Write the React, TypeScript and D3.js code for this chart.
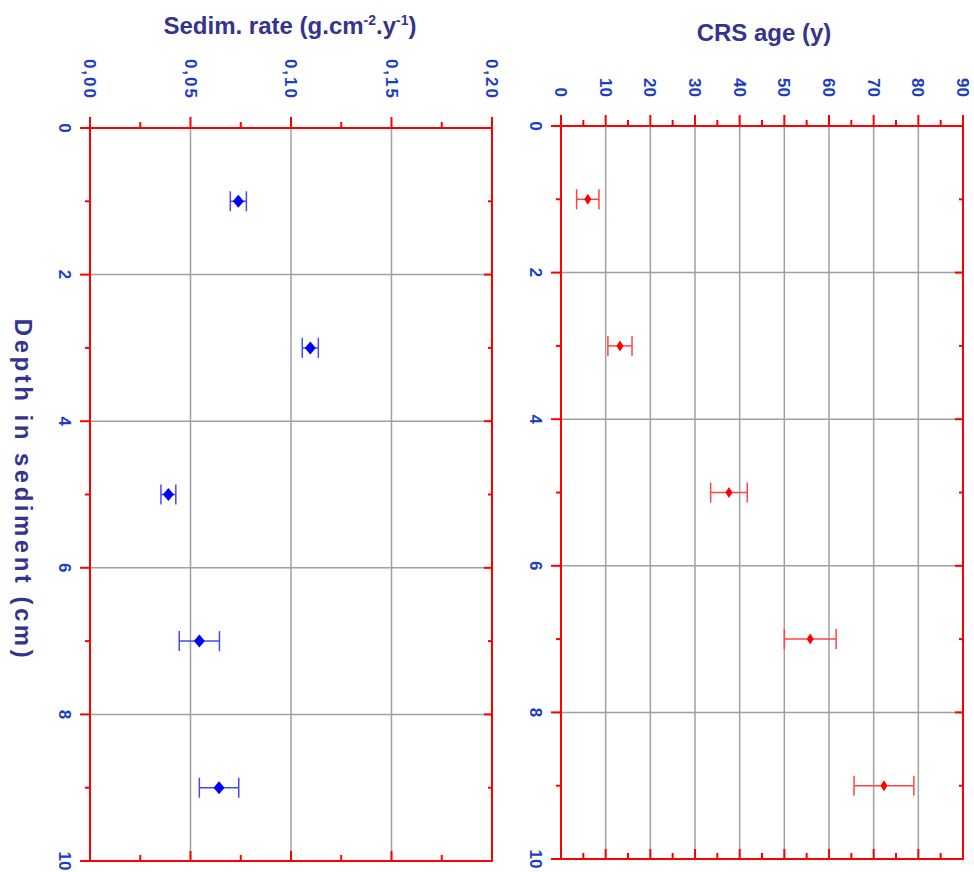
import React from 'react';
import * as d3 from 'd3';

// depth (cm) of each sample
const depths = [1, 3, 5, 7, 9];
// sedimentation rate (g.cm-2.y-1) and its uncertainty
const sedRate = [0.0738, 0.1096, 0.039, 0.0544, 0.0642];
const sedErr = [0.004, 0.004, 0.0037, 0.01, 0.0098];
// CRS age (y) and its uncertainty
const crsAge = [6.0, 13.2, 37.6, 55.8, 72.3];
const crsErr = [2.5, 2.7, 4.1, 5.8, 6.7];

const sedTicks = [0, 0.05, 0.1, 0.15, 0.2];
const sedTickLabels = ['0,00', '0,05', '0,10', '0,15', '0,20'];
const ageTicks = [0, 10, 20, 30, 40, 50, 60, 70, 80, 90];
const depthTicks = [0, 2, 4, 6, 8, 10];

const FONT = "'Liberation Sans', Arial, sans-serif";
const RED = '#ff0000';
const GRID = '#a0a0a0';
const TICK_BLUE = '#1c3ec4';
const TITLE_BLUE = '#34348e';

function diamond(cx, cy, hw, hh) {
  const p = d3.path();
  p.moveTo(cx, cy - hh);
  p.lineTo(cx + hw, cy);
  p.lineTo(cx, cy + hh);
  p.lineTo(cx - hw, cy);
  p.closePath();
  return p.toString();
}

function Panel({ x0, x1, y0, y1, domain, ticks, labels, minorStep, values, errs, color, barColor, mw, mh, labelY, letterSpacing }) {
  const x = d3.scaleLinear().domain(domain).range([x0, x1]);
  const y = d3.scaleLinear().domain([0, 10]).range([y0, y1]);
  const minorX = d3.range(domain[0] + minorStep, domain[1], minorStep * 2);
  const minorY = [1, 3, 5, 7, 9];
  return (
    <g>
      {/* grid */}
      {ticks.slice(1, -1).map((t, i) => (
        <line key={'gx' + i} x1={x(t)} x2={x(t)} y1={y0} y2={y1} stroke={GRID} strokeWidth={1.5} />
      ))}
      {depthTicks.slice(1, -1).map((t, i) => (
        <line key={'gy' + i} x1={x0} x2={x1} y1={y(t)} y2={y(t)} stroke={GRID} strokeWidth={1.5} />
      ))}
      {/* top ticks (outward) and bottom ticks (inward) */}
      {ticks.map((t, i) => (
        <g key={'tx' + i}>
          <line x1={x(t)} x2={x(t)} y1={y0 - 11} y2={y0} stroke={RED} strokeWidth={2} />
          <line x1={x(t)} x2={x(t)} y1={y1 - 10} y2={y1} stroke={RED} strokeWidth={2} />
        </g>
      ))}
      {minorX.map((t, i) => (
        <g key={'mx' + i}>
          <line x1={x(t)} x2={x(t)} y1={y0 - 6} y2={y0} stroke={RED} strokeWidth={2} />
          <line x1={x(t)} x2={x(t)} y1={y1 - 6} y2={y1} stroke={RED} strokeWidth={2} />
        </g>
      ))}
      {/* left ticks (outward) and right ticks (inward) */}
      {depthTicks.map((t, i) => (
        <g key={'ty' + i}>
          <line x1={x0 - 10} x2={x0} y1={y(t)} y2={y(t)} stroke={RED} strokeWidth={2} />
          <line x1={x1 - 8} x2={x1} y1={y(t)} y2={y(t)} stroke={RED} strokeWidth={2} />
        </g>
      ))}
      {minorY.map((t, i) => (
        <g key={'my' + i}>
          <line x1={x0 - 5} x2={x0} y1={y(t)} y2={y(t)} stroke={RED} strokeWidth={2} />
          <line x1={x1 - 4} x2={x1} y1={y(t)} y2={y(t)} stroke={RED} strokeWidth={2} />
        </g>
      ))}
      {/* frame */}
      <rect x={x0} y={y0} width={x1 - x0} height={y1 - y0} fill="none" stroke={RED} strokeWidth={2} />
      {/* x tick labels, rotated */}
      {ticks.map((t, i) => (
        <text key={'lx' + i} transform={`translate(${x(t)},${labelY}) rotate(90)`} textAnchor="end" dy="0.35em"
          fontSize={17} fontWeight="bold" fontFamily={FONT} fill={TICK_BLUE} letterSpacing={letterSpacing}>
          {labels[i]}
        </text>
      ))}
      {/* depth tick labels, rotated */}
      {depthTicks.map((t, i) => (
        <text key={'ly' + i} transform={`translate(${x0 - 25},${y(t)}) rotate(90)`} textAnchor="middle" dy="0.35em"
          fontSize={17} fontWeight="bold" fontFamily={FONT} fill={TICK_BLUE}>
          {t}
        </text>
      ))}
      {/* error bars and markers */}
      {depths.map((d, i) => {
        const cy = y(d);
        const a = x(values[i] - errs[i]);
        const b = x(values[i] + errs[i]);
        return (
          <g key={'p' + i}>
            <line x1={a} x2={b} y1={cy} y2={cy} stroke={barColor} strokeWidth={1.5} />
            <line x1={a} x2={a} y1={cy - 10} y2={cy + 10} stroke={barColor} strokeWidth={1.5} />
            <line x1={b} x2={b} y1={cy - 10} y2={cy + 10} stroke={barColor} strokeWidth={1.5} />
            <path d={diamond(x(values[i]), cy, mw, mh)} fill={color} />
          </g>
        );
      })}
    </g>
  );
}

export default function App() {
  return (
    <svg width={974} height={872} style={{ position: 'absolute', left: 0, top: 0, background: '#fff' }}>
      <rect width={974} height={872} fill="#fff" />
      <Panel x0={90} x1={492} y0={128} y1={861} domain={[0, 0.2]} ticks={sedTicks} labels={sedTickLabels}
        minorStep={0.025} values={sedRate} errs={sedErr} color="#0000ff" barColor="#4747ff" mw={5.5} mh={6.5}
        labelY={100} letterSpacing={2} />
      <Panel x0={561} x1={963} y0={126} y1={859} domain={[0, 90]} ticks={ageTicks} labels={ageTicks.map(String)}
        minorStep={5} values={crsAge} errs={crsErr} color="#ff0000" barColor="#ff4545" mw={3.5} mh={5.5}
        labelY={97} letterSpacing={0} />
      {/* titles */}
      <text x={290} y={34} textAnchor="middle" fontSize={24} fontWeight="bold" fontFamily={FONT} fill={TITLE_BLUE}>
        Sedim. rate (g.cm<tspan fontSize={14} dy={-9}>-2</tspan><tspan dy={9}>.y</tspan><tspan fontSize={14} dy={-9}>-1</tspan><tspan dy={9}>)</tspan>
      </text>
      <text x={764} y={41} textAnchor="middle" fontSize={24} fontWeight="bold" fontFamily={FONT} fill={TITLE_BLUE}>
        CRS age (y)
      </text>
      <text transform="translate(15,490) rotate(90)" textAnchor="middle" fontSize={24} fontWeight="bold"
        fontFamily={FONT} fill={TITLE_BLUE} letterSpacing={3.5}>
        Depth in sediment (cm)
      </text>
    </svg>
  );
}
